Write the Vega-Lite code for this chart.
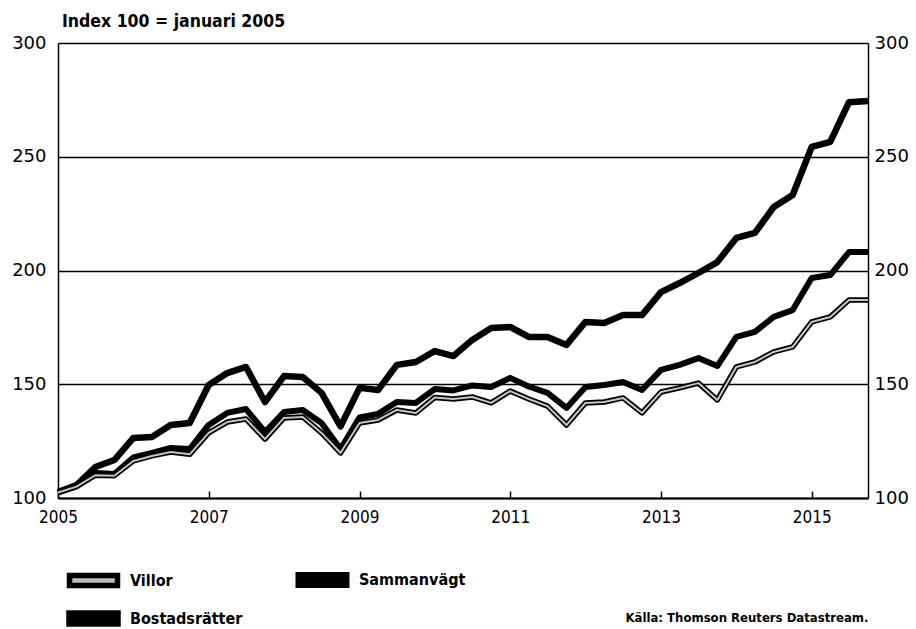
{
  "$schema": "https://vega.github.io/schema/vega-lite/v6.json",
  "width": 810,
  "height": 455,
  "autosize": {"type": "none"},
  "padding": {"left": 58, "top": 43, "right": 48, "bottom": 131},
  "background": "white",
  "config": {"view": {"stroke": null}, "font": "DejaVu Sans"},
  "title": {"text": "Index 100 = januari 2005", "anchor": "start", "frame": "group", "offset": 4, "dx": 4, "fontSize": 17.5, "font": "DejaVu Sans Condensed", "fontWeight": "bold", "color": "black"},
  "data": {"values": [
    {"datum": "2005-01-01", "serie": "Bostadsrätter", "index": 102.6},
    {"datum": "2005-04-01", "serie": "Bostadsrätter", "index": 105.7},
    {"datum": "2005-07-01", "serie": "Bostadsrätter", "index": 113.6},
    {"datum": "2005-10-01", "serie": "Bostadsrätter", "index": 116.7},
    {"datum": "2006-01-01", "serie": "Bostadsrätter", "index": 126.4},
    {"datum": "2006-04-01", "serie": "Bostadsrätter", "index": 126.8},
    {"datum": "2006-07-01", "serie": "Bostadsrätter", "index": 132.1},
    {"datum": "2006-10-01", "serie": "Bostadsrätter", "index": 133.0},
    {"datum": "2007-01-01", "serie": "Bostadsrätter", "index": 149.7},
    {"datum": "2007-04-01", "serie": "Bostadsrätter", "index": 154.9},
    {"datum": "2007-07-01", "serie": "Bostadsrätter", "index": 157.6},
    {"datum": "2007-10-01", "serie": "Bostadsrätter", "index": 142.2},
    {"datum": "2008-01-01", "serie": "Bostadsrätter", "index": 153.6},
    {"datum": "2008-04-01", "serie": "Bostadsrätter", "index": 153.2},
    {"datum": "2008-07-01", "serie": "Bostadsrätter", "index": 146.2},
    {"datum": "2008-10-01", "serie": "Bostadsrätter", "index": 131.5},
    {"datum": "2009-01-01", "serie": "Bostadsrätter", "index": 148.4},
    {"datum": "2009-04-01", "serie": "Bostadsrätter", "index": 147.5},
    {"datum": "2009-07-01", "serie": "Bostadsrätter", "index": 158.5},
    {"datum": "2009-10-01", "serie": "Bostadsrätter", "index": 159.8},
    {"datum": "2010-01-01", "serie": "Bostadsrätter", "index": 164.6},
    {"datum": "2010-04-01", "serie": "Bostadsrätter", "index": 162.4},
    {"datum": "2010-07-01", "serie": "Bostadsrätter", "index": 169.5},
    {"datum": "2010-10-01", "serie": "Bostadsrätter", "index": 174.7},
    {"datum": "2011-01-01", "serie": "Bostadsrätter", "index": 175.2},
    {"datum": "2011-04-01", "serie": "Bostadsrätter", "index": 170.8},
    {"datum": "2011-07-01", "serie": "Bostadsrätter", "index": 170.8},
    {"datum": "2011-10-01", "serie": "Bostadsrätter", "index": 167.3},
    {"datum": "2012-01-01", "serie": "Bostadsrätter", "index": 177.4},
    {"datum": "2012-04-01", "serie": "Bostadsrätter", "index": 176.9},
    {"datum": "2012-07-01", "serie": "Bostadsrätter", "index": 180.4},
    {"datum": "2012-10-01", "serie": "Bostadsrätter", "index": 180.4},
    {"datum": "2013-01-01", "serie": "Bostadsrätter", "index": 190.5},
    {"datum": "2013-04-01", "serie": "Bostadsrätter", "index": 194.5},
    {"datum": "2013-07-01", "serie": "Bostadsrätter", "index": 198.9},
    {"datum": "2013-10-01", "serie": "Bostadsrätter", "index": 203.7},
    {"datum": "2014-01-01", "serie": "Bostadsrätter", "index": 214.3},
    {"datum": "2014-04-01", "serie": "Bostadsrätter", "index": 216.5},
    {"datum": "2014-07-01", "serie": "Bostadsrätter", "index": 227.9},
    {"datum": "2014-10-01", "serie": "Bostadsrätter", "index": 233.2},
    {"datum": "2015-01-01", "serie": "Bostadsrätter", "index": 254.3},
    {"datum": "2015-04-01", "serie": "Bostadsrätter", "index": 256.5},
    {"datum": "2015-07-01", "serie": "Bostadsrätter", "index": 274.0},
    {"datum": "2015-10-01", "serie": "Bostadsrätter", "index": 274.5},
    {"datum": "2005-01-01", "serie": "Sammanvägt", "index": 102.5},
    {"datum": "2005-04-01", "serie": "Sammanvägt", "index": 105.2},
    {"datum": "2005-07-01", "serie": "Sammanvägt", "index": 111.0},
    {"datum": "2005-10-01", "serie": "Sammanvägt", "index": 110.5},
    {"datum": "2006-01-01", "serie": "Sammanvägt", "index": 117.8},
    {"datum": "2006-04-01", "serie": "Sammanvägt", "index": 119.8},
    {"datum": "2006-07-01", "serie": "Sammanvägt", "index": 122.0},
    {"datum": "2006-10-01", "serie": "Sammanvägt", "index": 121.5},
    {"datum": "2007-01-01", "serie": "Sammanvägt", "index": 132.1},
    {"datum": "2007-04-01", "serie": "Sammanvägt", "index": 137.4},
    {"datum": "2007-07-01", "serie": "Sammanvägt", "index": 139.1},
    {"datum": "2007-10-01", "serie": "Sammanvägt", "index": 129.0},
    {"datum": "2008-01-01", "serie": "Sammanvägt", "index": 137.8},
    {"datum": "2008-04-01", "serie": "Sammanvägt", "index": 138.7},
    {"datum": "2008-07-01", "serie": "Sammanvägt", "index": 133.0},
    {"datum": "2008-10-01", "serie": "Sammanvägt", "index": 121.5},
    {"datum": "2009-01-01", "serie": "Sammanvägt", "index": 135.4},
    {"datum": "2009-04-01", "serie": "Sammanvägt", "index": 137.0},
    {"datum": "2009-07-01", "serie": "Sammanvägt", "index": 142.2},
    {"datum": "2009-10-01", "serie": "Sammanvägt", "index": 141.8},
    {"datum": "2010-01-01", "serie": "Sammanvägt", "index": 147.9},
    {"datum": "2010-04-01", "serie": "Sammanvägt", "index": 147.3},
    {"datum": "2010-07-01", "serie": "Sammanvägt", "index": 149.5},
    {"datum": "2010-10-01", "serie": "Sammanvägt", "index": 148.8},
    {"datum": "2011-01-01", "serie": "Sammanvägt", "index": 152.8},
    {"datum": "2011-04-01", "serie": "Sammanvägt", "index": 149.0},
    {"datum": "2011-07-01", "serie": "Sammanvägt", "index": 146.2},
    {"datum": "2011-10-01", "serie": "Sammanvägt", "index": 139.6},
    {"datum": "2012-01-01", "serie": "Sammanvägt", "index": 148.8},
    {"datum": "2012-04-01", "serie": "Sammanvägt", "index": 149.7},
    {"datum": "2012-07-01", "serie": "Sammanvägt", "index": 151.0},
    {"datum": "2012-10-01", "serie": "Sammanvägt", "index": 147.5},
    {"datum": "2013-01-01", "serie": "Sammanvägt", "index": 156.3},
    {"datum": "2013-04-01", "serie": "Sammanvägt", "index": 158.5},
    {"datum": "2013-07-01", "serie": "Sammanvägt", "index": 161.5},
    {"datum": "2013-10-01", "serie": "Sammanvägt", "index": 158.0},
    {"datum": "2014-01-01", "serie": "Sammanvägt", "index": 170.8},
    {"datum": "2014-04-01", "serie": "Sammanvägt", "index": 173.0},
    {"datum": "2014-07-01", "serie": "Sammanvägt", "index": 179.6},
    {"datum": "2014-10-01", "serie": "Sammanvägt", "index": 182.6},
    {"datum": "2015-01-01", "serie": "Sammanvägt", "index": 196.7},
    {"datum": "2015-04-01", "serie": "Sammanvägt", "index": 198.0},
    {"datum": "2015-07-01", "serie": "Sammanvägt", "index": 208.1},
    {"datum": "2015-10-01", "serie": "Sammanvägt", "index": 208.1},
    {"datum": "2005-01-01", "serie": "Villor", "index": 102.4},
    {"datum": "2005-04-01", "serie": "Villor", "index": 105.0},
    {"datum": "2005-07-01", "serie": "Villor", "index": 110.0},
    {"datum": "2005-10-01", "serie": "Villor", "index": 109.8},
    {"datum": "2006-01-01", "serie": "Villor", "index": 116.3},
    {"datum": "2006-04-01", "serie": "Villor", "index": 118.5},
    {"datum": "2006-07-01", "serie": "Villor", "index": 120.2},
    {"datum": "2006-10-01", "serie": "Villor", "index": 119.2},
    {"datum": "2007-01-01", "serie": "Villor", "index": 128.6},
    {"datum": "2007-04-01", "serie": "Villor", "index": 133.4},
    {"datum": "2007-07-01", "serie": "Villor", "index": 134.7},
    {"datum": "2007-10-01", "serie": "Villor", "index": 125.9},
    {"datum": "2008-01-01", "serie": "Villor", "index": 135.2},
    {"datum": "2008-04-01", "serie": "Villor", "index": 135.6},
    {"datum": "2008-07-01", "serie": "Villor", "index": 128.6},
    {"datum": "2008-10-01", "serie": "Villor", "index": 119.8},
    {"datum": "2009-01-01", "serie": "Villor", "index": 133.0},
    {"datum": "2009-04-01", "serie": "Villor", "index": 134.3},
    {"datum": "2009-07-01", "serie": "Villor", "index": 138.7},
    {"datum": "2009-10-01", "serie": "Villor", "index": 137.4},
    {"datum": "2010-01-01", "serie": "Villor", "index": 144.2},
    {"datum": "2010-04-01", "serie": "Villor", "index": 143.5},
    {"datum": "2010-07-01", "serie": "Villor", "index": 144.4},
    {"datum": "2010-10-01", "serie": "Villor", "index": 141.8},
    {"datum": "2011-01-01", "serie": "Villor", "index": 147.0},
    {"datum": "2011-04-01", "serie": "Villor", "index": 143.5},
    {"datum": "2011-07-01", "serie": "Villor", "index": 140.4},
    {"datum": "2011-10-01", "serie": "Villor", "index": 132.1},
    {"datum": "2012-01-01", "serie": "Villor", "index": 141.8},
    {"datum": "2012-04-01", "serie": "Villor", "index": 142.2},
    {"datum": "2012-07-01", "serie": "Villor", "index": 144.0},
    {"datum": "2012-10-01", "serie": "Villor", "index": 137.4},
    {"datum": "2013-01-01", "serie": "Villor", "index": 146.6},
    {"datum": "2013-04-01", "serie": "Villor", "index": 148.4},
    {"datum": "2013-07-01", "serie": "Villor", "index": 150.5},
    {"datum": "2013-10-01", "serie": "Villor", "index": 143.1},
    {"datum": "2014-01-01", "serie": "Villor", "index": 157.6},
    {"datum": "2014-04-01", "serie": "Villor", "index": 159.8},
    {"datum": "2014-07-01", "serie": "Villor", "index": 164.2},
    {"datum": "2014-10-01", "serie": "Villor", "index": 166.4},
    {"datum": "2015-01-01", "serie": "Villor", "index": 177.4},
    {"datum": "2015-04-01", "serie": "Villor", "index": 179.6},
    {"datum": "2015-07-01", "serie": "Villor", "index": 187.0},
    {"datum": "2015-10-01", "serie": "Villor", "index": 187.0}
  ]},
  "encoding": {
    "x": {
      "field": "datum", "type": "temporal",
      "scale": {"type": "utc", "domain": [{"year": 2005, "month": 1, "date": 1, "utc": true}, {"year": 2015, "month": 10, "date": 1, "utc": true}]},
      "axis": {
        "values": [{"year": 2005, "month": 1, "date": 1, "utc": true}, {"year": 2007, "month": 1, "date": 1, "utc": true}, {"year": 2009, "month": 1, "date": 1, "utc": true}, {"year": 2011, "month": 1, "date": 1, "utc": true}, {"year": 2013, "month": 1, "date": 1, "utc": true}, {"year": 2015, "month": 1, "date": 1, "utc": true}],
        "format": "%Y", "grid": false,
        "domainColor": "black", "domainWidth": 2,
        "tickColor": "black", "tickWidth": 1.5, "tickSize": -7,
        "labelFontSize": 17, "labelFont": "DejaVu Sans Condensed", "labelColor": "black", "labelPadding": 18, "labelFlush": false,
        "title": "Källa: Thomson Reuters Datastream.", "titleAnchor": "end", "titleAlign": "right",
        "titleFont": "DejaVu Sans Condensed", "titleFontWeight": "bold", "titleFontSize": 13, "titleColor": "black", "titlePadding": 86
      }
    }
  },
  "layer": [
    {
      "mark": {"type": "line", "strokeJoin": "round", "strokeCap": "butt"},
      "encoding": {
        "y": {"field": "index", "type": "quantitative", "scale": {"domain": [100, 300], "nice": false, "zero": false},
          "axis": {"orient": "left", "values": [100, 150, 200, 250, 300], "grid": true, "gridColor": "black", "gridWidth": 1.4, "gridOpacity": 1,
            "domainColor": "black", "domainWidth": 1.5, "ticks": false, "labelPadding": 12, "labelFontSize": 18, "labelColor": "black", "title": null}},
        "color": {"field": "serie", "type": "nominal",
          "scale": {"domain": ["Villor", "Sammanvägt", "Bostadsrätter"], "range": ["black", "black", "black"]},
          "legend": {"orient": "none", "legendX": 22, "legendY": 524, "columns": 2, "direction": "horizontal", "title": null, "padding": 0,
            "symbolType": "M-2.4,-0.5H2.4V0.5H-2.4Z", "symbolSize": 400, "symbolStrokeWidth": 1.5,
            "labelFontSize": 16, "labelFont": "DejaVu Sans Condensed", "labelFontWeight": "bold", "labelColor": "black", "labelOffset": 23,
            "columnPadding": 43, "rowPadding": 3,
            "encode": {"symbols": {"update": {"fill": {"signal": "datum.value === 'Villor' ? '#bdbdbd' : 'black'"}, "stroke": {"value": "black"}, "strokeWidth": {"value": 1.5}, "opacity": {"value": 1}, "fillOpacity": {"value": 1}}}}}},
        "strokeWidth": {"field": "serie", "type": "nominal", "scale": {"domain": ["Villor", "Sammanvägt", "Bostadsrätter"], "range": [5.5, 6.5, 7]}, "legend": null}
      }
    },
    {
      "transform": [{"filter": "datum.serie === 'Villor'"}],
      "mark": {"type": "line", "color": "#c4c4c4", "strokeWidth": 2, "strokeJoin": "round"},
      "encoding": {
        "y": {"field": "index", "type": "quantitative", "scale": {"domain": [100, 300], "nice": false, "zero": false},
          "axis": {"orient": "right", "values": [100, 150, 200, 250, 300], "grid": false, "domainColor": "black", "domainWidth": 1.5, "ticks": false,
            "labelPadding": 6, "labelFontSize": 18, "labelColor": "black", "title": null}}
      }
    }
  ],
  "resolve": {"axis": {"y": "independent"}}
}
